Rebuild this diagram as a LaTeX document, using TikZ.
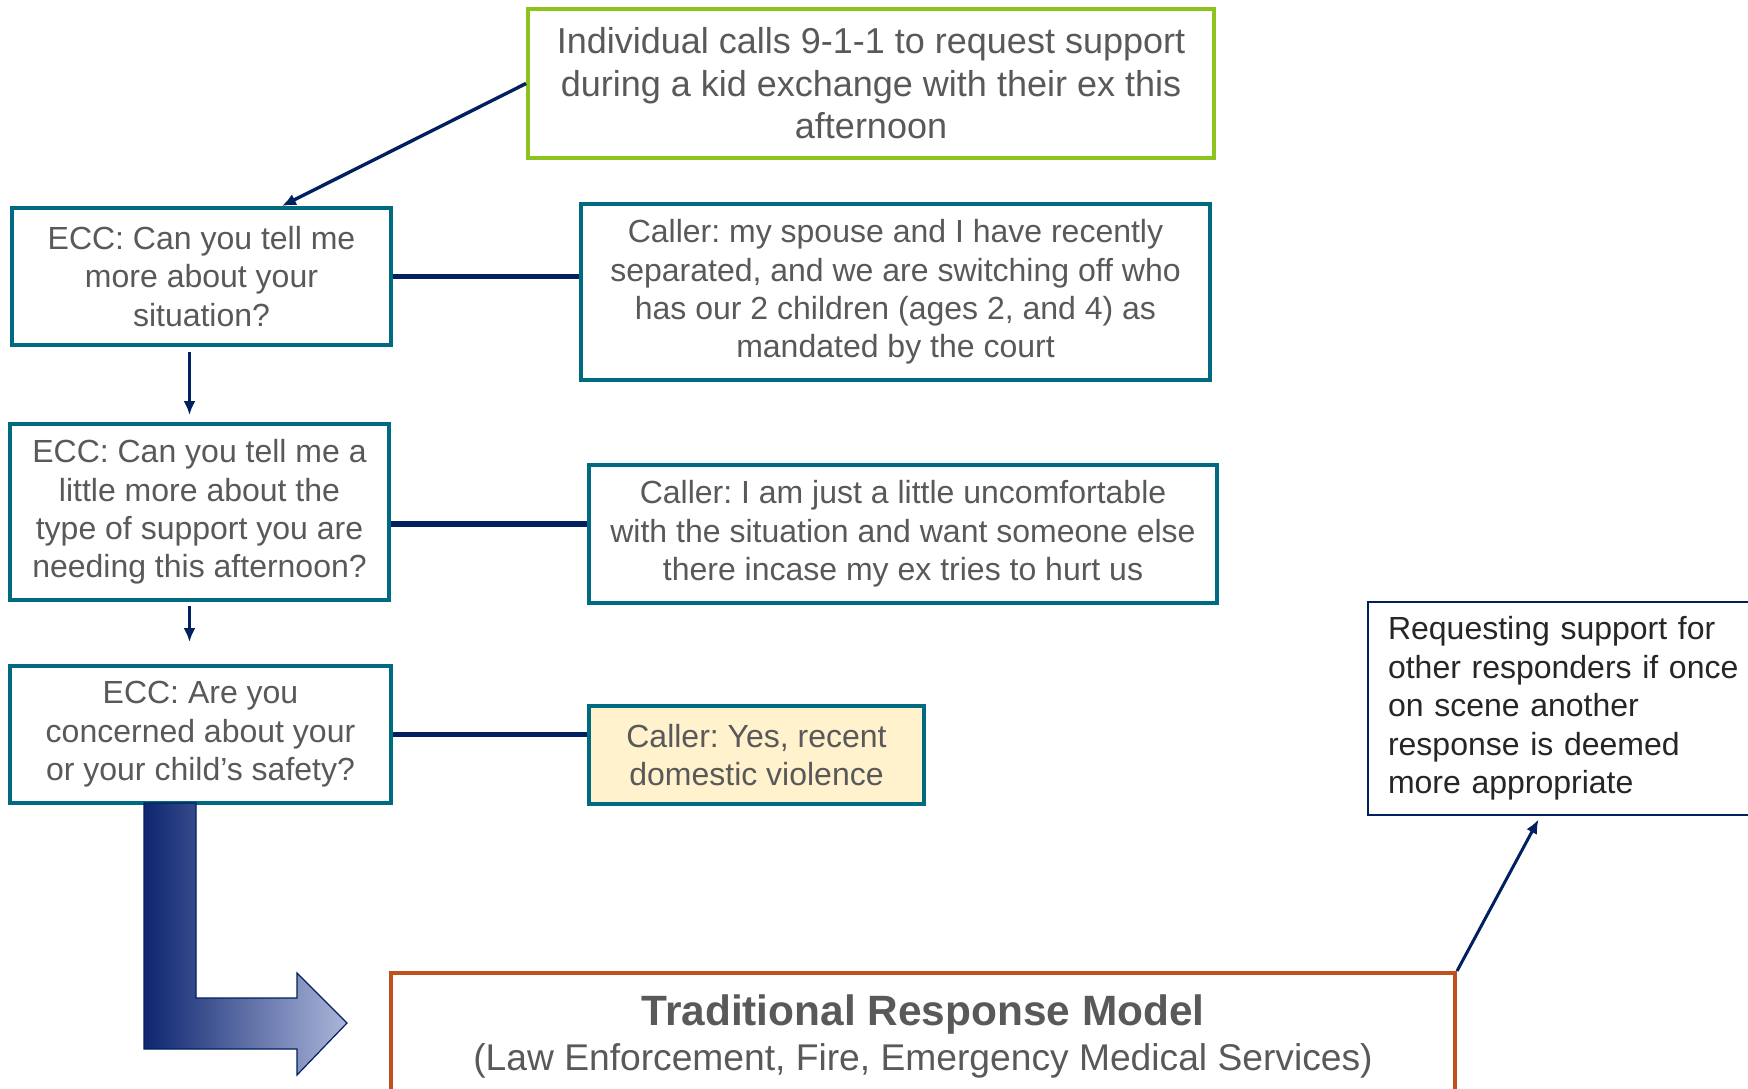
\documentclass[tikz,border=0pt]{standalone}
\usepackage{fontspec}
\setmainfont{Liberation Sans}
\frenchspacing
\usetikzlibrary{arrows.meta,calc}
\definecolor{eccteal}{RGB}{0,106,128}
\definecolor{startgreen}{RGB}{141,194,31}
\definecolor{modelorange}{RGB}{192,80,28}
\definecolor{linknavy}{RGB}{0,32,96}
\definecolor{textgrey}{RGB}{89,89,89}
\definecolor{notetext}{RGB}{38,38,38}
\definecolor{answeryellow}{RGB}{255,242,204}
\definecolor{arrowdark}{RGB}{14,38,112}
\definecolor{arrowlight}{RGB}{172,182,218}
\begin{document}
\begin{tikzpicture}[x=0.5pt,y=-0.5pt]
\tikzset{box/.style = {shape=rectangle,draw=eccteal,line width=2pt,fill=white,text=textgrey,align=center,inner sep=0pt,font=\fontsize{16}{19.2}\selectfont}}
\tikzset{startbox/.style = {box,draw=startgreen,font=\fontsize{18}{21.3}\selectfont}}
\tikzset{answerbox/.style = {box,fill=answeryellow}}
\tikzset{modelbox/.style = {box,draw=modelorange}}
\tikzset{notebox/.style = {shape=rectangle,draw=linknavy,line width=1pt,fill=white,text=notetext,align=left,text width=176pt,inner xsep=10pt,inner ysep=0pt,font=\fontsize{16}{19.2}\selectfont}}
\tikzset{edge/.style = {-,line width=2.8pt,draw=linknavy}}
\tikzset{flow/.style = {->,> = {Latex[length=7pt,width=6pt]},line width=1.7pt,draw=linknavy}}
\useasboundingbox (0,0) rectangle (1748,1088);
% boxes
\node[startbox,minimum width=343pt,minimum height=74.5pt] (call) at (871,83.5) {Individual calls 9-1-1 to request support\\during a kid exchange with their ex this\\afternoon};
\node[box,minimum width=189.5pt,minimum height=68.5pt] (ecc1) at (201.5,276.5) {ECC: Can you tell me\\more about your\\situation?};
\node[box,minimum width=314.5pt,minimum height=88pt] (caller1) at (895.5,292) {Caller: my spouse and I have recently\\separated, and we are switching off who\\has our 2 children (ages 2, and 4) as\\mandated by the court};
\node[box,minimum width=189.5pt,minimum height=88pt] (ecc2) at (199.5,512) {ECC: Can you tell me a\\little more about the\\type of support you are\\needing this afternoon?};
\node[box,minimum width=314pt,minimum height=69pt] (caller2) at (903,534) {Caller: I am just a little uncomfortable\\with the situation and want someone else\\there incase my ex tries to hurt us};
\node[box,minimum width=190.5pt,minimum height=68.5pt] (ecc3) at (200.5,734.5) {ECC: Are you\\concerned about your\\or your child’s safety?};
\node[answerbox,minimum width=167.5pt,minimum height=49pt] (caller3) at (756.5,755) {Caller: Yes, recent\\domestic violence};
\node[notebox,minimum height=106.5pt] (note) at (1564,708.5) {Requesting support for\\other responders if once\\on scene another\\response is deemed\\more appropriate};
\node[modelbox,minimum width=532pt,minimum height=63.5pt] (model) at (923,1036.5) {{\fontsize{21.2}{24}\selectfont\bfseries Traditional Response Model}\\[3pt]{\fontsize{18.6}{21}\selectfont (Law Enforcement, Fire, Emergency Medical Services)}};
% bent arrow
\shade[left color=arrowdark,right color=arrowlight,draw=linknavy,line width=0.6pt] (144,803) -- (196,803) -- (196,998) -- (297,998) -- (297,973) -- (347,1023) -- (297,1075) -- (297,1049) -- (144,1049) -- cycle;
% helper points
\coordinate (ecc1b) at ($(ecc1.south)+(-6pt,0)$);
\coordinate (ecc2b) at ($(ecc2.south)+(-5pt,0)$);
\coordinate (ecc2r) at ($(ecc2.east)+(0,-6pt)$);
%edges
\draw[flow] (call.west) to ($(ecc1.north west)!0.71!(ecc1.north east)$);
\draw[edge] (ecc1.east) to (ecc1.east -| caller1.west);
\draw[edge] (ecc2r) to (ecc2r -| caller2.west);
\draw[edge] (ecc3.east) to (ecc3.east -| caller3.west);
\draw[flow,shorten <=2.5pt,shorten >=3.5pt] (ecc1b) to (ecc1b |- ecc2.north);
\draw[flow,shorten <=2pt,shorten >=11pt] (ecc2b) to (ecc2b |- ecc3.north);
\draw[flow,line width=1.5pt,shorten >=2pt] (model.north east) to ($(note.south west)!0.44!(note.south east)$);
\end{tikzpicture}
\end{document}
